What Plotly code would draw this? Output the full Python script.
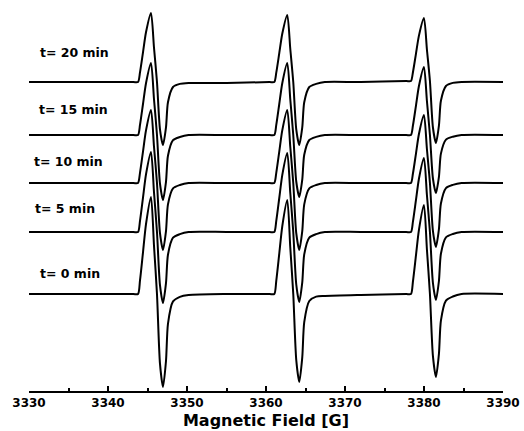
import plotly.graph_objects as go

# Magnetic field key positions (G)
field = [3330,
         3343.2, 3343.8, 3344.05, 3344.43, 3344.81, 3345.44, 3345.82, 3346.2, 3346.58, 3346.96, 3347.34, 3347.59, 3348.23, 3349.1, 3350.2,
         3355,
         3360.45, 3361.05, 3361.3, 3361.68, 3362.06, 3362.69, 3363.07, 3363.45, 3363.83, 3364.21, 3364.59, 3364.84, 3365.48, 3366.35, 3367.45,
         3372,
         3377.75, 3378.35, 3378.6, 3378.98, 3379.36, 3379.99, 3380.37, 3380.75, 3381.13, 3381.51, 3381.89, 3382.14, 3382.78, 3383.65, 3384.75,
         3390]

# Stacked spectra (arbitrary intensity units incl. vertical offset)
t20 = [303,
       303, 303, 312.7, 332.7, 352.7, 372, 337.5, 303, 255.7, 240, 257.6, 282.8, 298, 301.1, 302,
       302,
       303, 303, 312.4, 331.8, 351.2, 370, 336.5, 303, 255.7, 240, 257.6, 282.8, 298, 301.1, 303,
       303,
       304, 304, 312.8, 331.1, 349.4, 367, 335.5, 304, 257.5, 242, 259.4, 284.2, 299, 302.1, 303,
       303]
t15 = [250,
       250, 250, 260.1, 281, 301.8, 322, 286, 250, 201.3, 185, 203.2, 229.2, 244.8, 248, 250,
       250,
       250, 250, 260.1, 281, 301.8, 322, 286, 250, 203.5, 188, 205.4, 230.2, 245, 248.1, 250,
       250,
       250, 250, 259.5, 279.2, 299, 318, 284, 250, 206.5, 192, 208.2, 231.4, 245.4, 248.3, 250,
       250]
t10 = [202,
       202, 202, 212.2, 233.4, 254.6, 275, 238.5, 202, 151.8, 135, 153.8, 180.6, 196.6, 200, 202,
       202,
       202, 202, 212.2, 233.4, 254.6, 275, 238.5, 202, 151.8, 135, 153.8, 180.6, 196.6, 200, 202,
       202,
       202, 202, 211.5, 231.2, 251, 270, 236, 202, 154, 138, 155.9, 181.5, 196.9, 200.1, 202,
       202]
t5 = [153,
      153, 153, 164.2, 187.4, 210.6, 233, 193, 153, 99.8, 82, 101.9, 130.3, 147.3, 150.9, 153,
      153,
      153, 153, 164.1, 187, 209.9, 232, 192.5, 153, 100.5, 83, 102.6, 130.6, 147.4, 150.9, 153,
      153,
      153, 153, 163.4, 184.8, 206.3, 227, 190, 153, 102, 85, 104, 131.2, 147.6, 151, 153,
      153]
t0 = [91,
      91, 91, 104.6, 132.7, 160.8, 188, 139.5, 91, 21.3, -2, 24, 61.2, 83.6, 88.2, 90,
      91,
      91, 91, 104.2, 131.4, 158.7, 185, 138, 91, 25, 3, 27.6, 62.8, 84, 88.4, 89,
      90,
      91, 91, 103.5, 129.3, 155.1, 180, 135.5, 91, 28.8, 8, 31.2, 64.4, 84.4, 88.5, 91,
      91]

series = [t20, t15, t10, t5, t0]
labels = ["t= 20 min", "t= 15 min", "t= 10 min", "t= 5 min", "t= 0 min"]
label_x = [3335.8, 3335.6, 3334.95, 3334.6, 3335.2]
label_y = [333, 276, 224, 177, 112]

tick_vals = [3330, 3340, 3350, 3360, 3370, 3380, 3390]
tick_text = ["3330", "3340", "3350", "3360", "3370", "3380", "3390"]

fig = go.Figure()
for s in series:
    fig.add_trace(go.Scatter(x=field, y=s, mode="lines",
                             line=dict(color="black", width=2, shape="spline", smoothing=0.7),
                             showlegend=False, hoverinfo="skip"))

for lab, lx, ly in zip(labels, label_x, label_y):
    fig.add_annotation(x=lx, y=ly, xref="x", yref="y", text=lab, showarrow=False,
                       font=dict(family="DejaVu Sans", size=12.5, color="black", weight="bold"))

fig.update_layout(
    width=524, height=431,
    margin=dict(l=29, r=21, t=5, b=40),
    paper_bgcolor="white", plot_bgcolor="white",
    xaxis=dict(range=[3330, 3390], tickvals=tick_vals, ticktext=tick_text,
               ticks="inside", ticklen=5, tickwidth=2, tickcolor="black",
               showline=True, linecolor="black", linewidth=2,
               showgrid=False, zeroline=False,
               minor=dict(dtick=5, tick0=3330, ticks="inside", ticklen=3, tickwidth=1.5, tickcolor="black", showgrid=False),
               tickfont=dict(family="DejaVu Sans", size=12, color="black", weight="bold"),
               title=dict(text="Magnetic Field [G]", standoff=5,
                          font=dict(family="DejaVu Sans", size=16, color="black", weight="bold"))),
    yaxis=dict(range=[-6, 380], visible=False, showgrid=False, zeroline=False),
)

fig.write_html("out.html",
               config={"displayModeBar": False},
               post_script="document.body.style.margin='0';document.body.style.overflow='hidden';")
